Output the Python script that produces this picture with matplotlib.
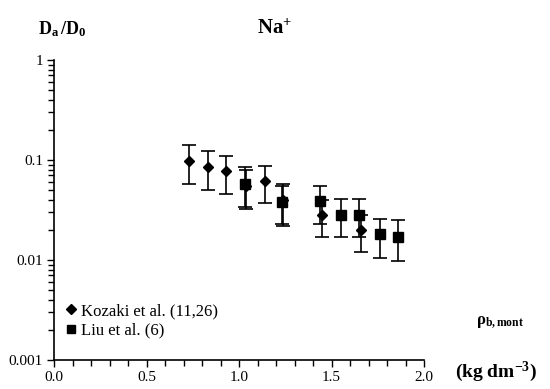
import numpy as np
import matplotlib
matplotlib.use('Agg')
import matplotlib.pyplot as plt
from matplotlib.lines import Line2D
from matplotlib.ticker import LogLocator, NullFormatter, FixedLocator, MultipleLocator

plt.rcParams['font.family'] = ['Liberation Serif', 'DejaVu Serif']
plt.rcParams['mathtext.fontset'] = 'custom'
plt.rcParams['mathtext.rm'] = 'Liberation Serif'
plt.rcParams['mathtext.it'] = 'Liberation Serif:italic'
plt.rcParams['mathtext.bf'] = 'Liberation Serif:bold'

# Kozaki et al. (11,26) - diamonds
koz_rho = [0.73, 0.83, 0.93, 1.04, 1.14, 1.24, 1.45, 1.66]
koz_val = [0.097, 0.085, 0.077, 0.055, 0.061, 0.040, 0.028, 0.020]
koz_hi = [0.140, 0.122, 0.110, 0.080, 0.087, 0.058, 0.040, 0.028]
koz_lo = [0.058, 0.050, 0.046, 0.032, 0.037, 0.022, 0.017, 0.012]

# Liu et al. (6) - squares
liu_rho = [1.03, 1.23, 1.44, 1.55, 1.65, 1.76, 1.86]
liu_val = [0.058, 0.038, 0.039, 0.028, 0.028, 0.018, 0.017]
liu_hi = [0.085, 0.055, 0.055, 0.041, 0.041, 0.026, 0.025]
liu_lo = [0.034, 0.023, 0.023, 0.017, 0.017, 0.0105, 0.0098]

fig = plt.figure(figsize=(5.5, 3.89), dpi=100)
ax = fig.add_axes([54 / 550, 1 - 360 / 389, 370 / 550, 300 / 389])

def err(val, lo, hi):
    val = np.array(val)
    return [val - np.array(lo), np.array(hi) - val]

ax.errorbar(koz_rho, koz_val, yerr=err(koz_val, koz_lo, koz_hi), fmt='D', ms=5.5,
            color='black', ecolor='black', elinewidth=1.2, capsize=5, capthick=1.2)
ax.errorbar(liu_rho, liu_val, yerr=err(liu_val, liu_lo, liu_hi), fmt='s', ms=6.5,
            color='black', ecolor='black', elinewidth=1.2, capsize=5, capthick=1.2)

ax.set_yscale('log')
ax.set_ylim(0.001, 1)
ax.set_xlim(0, 2.0)

ax.spines['top'].set_visible(False)
ax.spines['right'].set_visible(False)
ax.spines['left'].set_linewidth(1.2)
ax.spines['bottom'].set_linewidth(1.2)

ax.xaxis.set_major_locator(FixedLocator([0, 0.5, 1.0, 1.5, 2.0]))
ax.xaxis.set_minor_locator(MultipleLocator(0.1))
ax.set_xticklabels(['0.0', '0.5', '1.0', '1.5', '2.0'])

ax.yaxis.set_major_locator(FixedLocator([0.001, 0.01, 0.1, 1]))
ax.set_yticklabels(['0.001', '0.01', '0.1', '1'])
ax.yaxis.set_minor_locator(LogLocator(base=10, subs=np.arange(2, 10)))
ax.yaxis.set_minor_formatter(NullFormatter())

ax.tick_params(axis='both', which='major', direction='out', length=5, width=1.0,
               labelsize=11, pad=3)
ax.tick_params(axis='both', which='minor', direction='out', length=4, width=1.0)

handles = [Line2D([], [], marker='D', ms=5, color='black', ls='none'),
           Line2D([], [], marker='s', ms=6, color='black', ls='none')]
ax.legend(handles, ['Kozaki et al. (11,26)', 'Liu et al. (6)'], loc='lower left',
          frameon=False, fontsize=12, handlelength=0.6, handletextpad=0.3,
          labelspacing=0.2, borderaxespad=0, bbox_to_anchor=(0.015, 0.05))

fig.text(38 / 550, 1 - 29 / 389, r'$\mathbf{D_a\,/D_0}$', fontsize=13,
         ha='left', va='center')
fig.text(275 / 550, 1 - 29 / 389, r'$\mathbf{Na^{+}}$', fontsize=15,
         ha='center', va='center')
fig.text(500 / 550, 1 - 322 / 389, r'$\mathbf{\rho_{b,mont}}$', fontsize=12,
         ha='center', va='center')
fig.text(496 / 550, 1 - 372 / 389, r'$\mathbf{(kg\ dm^{-3})}$', fontsize=14,
         ha='center', va='center')

fig.savefig('out.png', dpi=100)
